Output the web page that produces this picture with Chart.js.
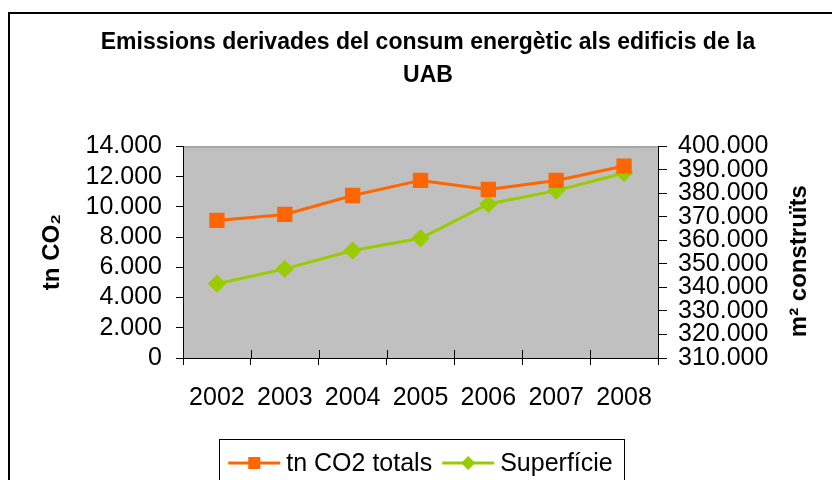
<!DOCTYPE html>
<html>
<head>
<meta charset="utf-8">
<script src="https://cdn.jsdelivr.net/npm/chart.js@4"></script>
<style>
  html, body { margin: 0; padding: 0; background: #fff; }
  #wrap { width: 832px; height: 480px; }
</style>
</head>
<body>
<div id="wrap"><canvas id="chart" width="832" height="480"></canvas></div>
<script>
// values
var years = ['2002', '2003', '2004', '2005', '2006', '2007', '2008'];
var co2Totals = [9100, 9500, 10750, 11750, 11150, 11750, 12700];
var superficie = [341600, 347900, 355700, 360900, 375500, 381200, 388700];

var co2Axis = { min: 0, max: 14000, step: 2000 };
var areaAxis = { min: 310000, max: 400000, step: 10000 };

var titleLines = ['Emissions derivades del consum energètic als edificis de la', 'UAB'];
var leftTitle = 'tn CO\u2082';
var rightTitle = 'm\u00b2 construïts';

var FONT = "'Liberation Sans', Arial, sans-serif";
Chart.defaults.font.family = FONT;
Chart.defaults.color = '#000';

// 14000 -> "14.000"
function thousands(v) {
  return String(Math.round(v)).replace(/\B(?=(\d{3})+(?!\d))/g, '.');
}

var framePlugin = {
  id: 'frame',
  beforeDraw: function(chart) {
    var ctx = chart.ctx, a = chart.chartArea;
    ctx.save();
    // outer frame (left + top only visible)
    ctx.strokeStyle = '#000';
    ctx.lineWidth = 2;
    ctx.beginPath();
    ctx.moveTo(9, 480);
    ctx.lineTo(9, 13);
    ctx.lineTo(832, 13);
    ctx.stroke();
    // plot area
    ctx.fillStyle = '#c0c0c0';
    ctx.fillRect(a.left, a.top, a.right - a.left, a.bottom - a.top);
    ctx.strokeStyle = '#808080';
    ctx.lineWidth = 1;
    ctx.beginPath();
    ctx.moveTo(a.left, a.top + 0.5);
    ctx.lineTo(a.right, a.top + 0.5);
    ctx.stroke();
    ctx.restore();
  },
  afterDraw: function(chart) {
    var ctx = chart.ctx, a = chart.chartArea, xs = chart.scales.x;
    ctx.save();
    // category ticks also poke into the plot area
    ctx.strokeStyle = '#000';
    ctx.lineWidth = 1;
    ctx.beginPath();
    for (var i = 0; i <= years.length; i++) {
      var px = Math.round(xs.getPixelForValue(i - 0.5)) + 0.5;
      ctx.moveTo(px, a.bottom - 8);
      ctx.lineTo(px, a.bottom);
    }
    ctx.stroke();
    // right axis title reads bottom-to-top, Chart.js would turn it the other way
    ctx.font = 'bold 24px ' + FONT;
    ctx.fillStyle = '#000';
    ctx.textAlign = 'center';
    ctx.textBaseline = 'middle';
    ctx.translate(799, (a.top + a.bottom) / 2 + 9);
    ctx.rotate(-Math.PI / 2);
    ctx.fillText(rightTitle, 0, 0);
    ctx.restore();
  }
};

// line + marker legend in a box, like the spreadsheet one
var legendPlugin = {
  id: 'boxLegend',
  afterDraw: function(chart) {
    var ctx = chart.ctx, a = chart.chartArea;
    var sets = chart.data.datasets;
    var lineLen = 52, gapText = 6, gapItem = 10, y = 463;
    ctx.save();
    ctx.font = '25px ' + FONT;
    ctx.textBaseline = 'middle';
    var widths = sets.map(function(d) { return ctx.measureText(d.label).width; });
    var total = 0;
    widths.forEach(function(w, i) { total += lineLen + gapText + w + (i ? gapItem : 0); });
    var x = (a.left + a.right) / 2 - total / 2;
    ctx.strokeStyle = '#000';
    ctx.lineWidth = 1;
    ctx.strokeRect(Math.round(x - 9) + 0.5, 439.5, Math.round(total + 21), 60);
    sets.forEach(function(d, i) {
      if (i) x += gapItem;
      ctx.strokeStyle = d.borderColor;
      ctx.lineWidth = 3;
      ctx.beginPath();
      ctx.moveTo(x, y);
      ctx.lineTo(x + lineLen, y);
      ctx.stroke();
      var cx = x + lineLen / 2;
      ctx.fillStyle = d.pointBackgroundColor;
      ctx.beginPath();
      if (d.pointStyle === 'rect') {
        ctx.rect(cx - 6, y - 6, 12, 12);
      } else {
        ctx.moveTo(cx, y - 7);
        ctx.lineTo(cx + 7, y);
        ctx.lineTo(cx, y + 7);
        ctx.lineTo(cx - 7, y);
        ctx.closePath();
      }
      ctx.fill();
      x += lineLen + gapText;
      ctx.fillStyle = '#000';
      ctx.fillText(d.label, x, y + 1);
      x += widths[i];
    });
    ctx.restore();
  }
};

new Chart(document.getElementById('chart').getContext('2d'), {
  type: 'line',
  data: {
    labels: years,
    datasets: [
      {
        label: 'tn CO2 totals',
        data: co2Totals,
        yAxisID: 'yCo2',
        borderColor: '#ff6600',
        backgroundColor: '#ff6600',
        pointBackgroundColor: '#ff6600',
        pointBorderColor: '#ff6600',
        pointStyle: 'rect',
        pointRadius: 8.7,
        borderWidth: 3,
        tension: 0,
        clip: false
      },
      {
        label: 'Superfície',
        data: superficie,
        yAxisID: 'yArea',
        borderColor: '#99cc00',
        backgroundColor: '#99cc00',
        pointBackgroundColor: '#99cc00',
        pointBorderColor: '#99cc00',
        pointStyle: 'rectRot',
        pointRadius: 7,
        borderWidth: 3,
        tension: 0,
        clip: false
      }
    ]
  },
  options: {
    responsive: false,
    animation: false,
    // left padding pushes the (full width) title a bit right, as in the original
    layout: { padding: { left: 24, right: 0, top: 0, bottom: 70 } },
    plugins: {
      legend: { display: false },
      tooltip: { enabled: false },
      title: {
        display: true,
        text: titleLines,
        color: '#000',
        font: { size: 23, weight: 'bold', lineHeight: 1.4 },
        padding: { top: 27, bottom: 55 }
      }
    },
    scales: {
      x: {
        offset: true,
        grid: { offset: true, drawOnChartArea: false, tickLength: 7, color: '#000' },
        border: { color: '#000' },
        ticks: { font: { size: 25 }, padding: 18, maxRotation: 0, autoSkip: false },
        afterFit: function(s) { s.height = 52; }
      },
      yCo2: {
        position: 'left',
        min: co2Axis.min,
        max: co2Axis.max,
        grid: { drawOnChartArea: false, tickLength: 7, color: '#000' },
        border: { color: '#000' },
        ticks: {
          stepSize: co2Axis.step,
          autoSkip: false,
          font: { size: 25 },
          padding: 14,
          callback: function(v) { return thousands(v); }
        },
        title: {
          display: true,
          text: leftTitle,
          font: { size: 24, weight: 'bold' },
          padding: { top: 14, bottom: 0 }
        },
        afterFit: function(s) { s.width = 159; }
      },
      yArea: {
        position: 'right',
        min: areaAxis.min,
        max: areaAxis.max,
        grid: { drawOnChartArea: false, tickLength: 9, color: '#000' },
        border: { color: '#000' },
        ticks: {
          stepSize: areaAxis.step,
          autoSkip: false,
          font: { size: 25 },
          padding: 11,
          callback: function(v) { return thousands(v); }
        },
        afterFit: function(s) { s.width = 174; }
      }
    }
  },
  plugins: [framePlugin, legendPlugin]
});
</script>
</body>
</html>
